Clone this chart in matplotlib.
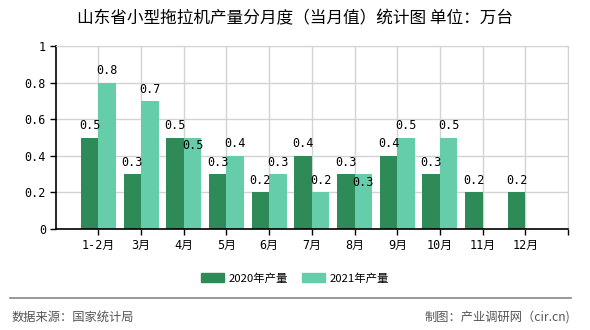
import matplotlib
matplotlib.use("Agg")
import matplotlib.pyplot as plt
from matplotlib.lines import Line2D
import numpy as np

plt.rcParams["font.family"] = ["Noto Sans CJK SC", "DejaVu Sans"]

months = ["1-2月", "3月", "4月", "5月", "6月", "7月", "8月", "9月", "10月", "11月", "12月"]
prod_2020 = [0.5, 0.3, 0.5, 0.3, 0.2, 0.4, 0.3, 0.4, 0.3, 0.2, 0.2]
prod_2021 = [0.8, 0.7, 0.5, 0.4, 0.3, 0.2, 0.3, 0.5, 0.5, None, None]

title = "山东省小型拖拉机产量分月度（当月值）统计图 单位：万台"
source = "数据来源：国家统计局"
credit = "制图：产业调研网（cir.cn)"

c2020 = "#2e8b57"
c2021 = "#66cdaa"
num_font = ["DejaVu Sans Mono", "Noto Sans CJK SC"]

W, H = 590, 330
fig = plt.figure(figsize=(W / 100, H / 100), dpi=100)
ax = fig.add_axes([55.7 / W, 1 - 229 / H, (568 - 55.7) / W, (229 - 46) / H])

x = np.arange(len(months))
bw = 0.41
for i, v in enumerate(prod_2020):
    ax.bar(x[i] - bw / 2, v, bw, color=c2020, zorder=2)
    ax.annotate(f"{v}", (x[i] - bw / 2, v), xytext=(0, 8.5), textcoords="offset points",
                ha="center", va="center", fontsize=8.5, family=num_font, zorder=3)
for i, v in enumerate(prod_2021):
    if v is None:
        continue
    ax.bar(x[i] + bw / 2, v, bw, color=c2021, zorder=2)
    # label pushed into the bar when it would collide with the 2020 label
    dy = -6 if v == prod_2020[i] else 8.5
    ax.annotate(f"{v}", (x[i] + bw / 2, v), xytext=(0, dy), textcoords="offset points",
                ha="center", va="center", fontsize=8.5, family=num_font, zorder=3)

ax.set_xlim(-1, len(months))
ax.set_ylim(0, 1)
ax.set_xticks(list(x) + [len(months)])
ax.set_xticklabels(months + [""], family=num_font, fontsize=8.5)
ax.set_yticks([0, 0.2, 0.4, 0.6, 0.8, 1])
ax.set_yticklabels(["0", "0.2", "0.4", "0.6", "0.8", "1"], family=num_font, fontsize=8.5)
ax.grid(True, color="#d3d3d3", linewidth=1, zorder=0)
ax.set_axisbelow(True)
for s in ["top", "right"]:
    ax.spines[s].set_color("#d3d3d3")
for s in ["left", "bottom"]:
    ax.spines[s].set_color("black")
    ax.spines[s].set_linewidth(1.2)
ax.tick_params(length=4, width=1, color="black", pad=3)

fig.text(0.5, 1 - 19 / H, title, ha="center", va="center", fontsize=12)

handles = [plt.Rectangle((0, 0), 1, 1, color=c2020), plt.Rectangle((0, 0), 1, 1, color=c2021)]
fig.legend(handles, ["2020年产量", "2021年产量"], loc="center", bbox_to_anchor=(0.5, 1 - 278 / H),
           ncol=2, frameon=False, fontsize=8.2, handlelength=2.0, handleheight=0.8,
           handletextpad=0.4, columnspacing=1.3)

fig.add_artist(Line2D([10 / W, 571 / W], [1 - 298 / H, 1 - 298 / H], color="#888888", linewidth=1.2))
fig.text(12 / W, 1 - 317 / H, source, ha="left", va="center", fontsize=8.8, color="#555555")
fig.text(570 / W, 1 - 317 / H, credit, ha="right", va="center", fontsize=8.8, color="#555555")

fig.savefig("out.png", dpi=100)
